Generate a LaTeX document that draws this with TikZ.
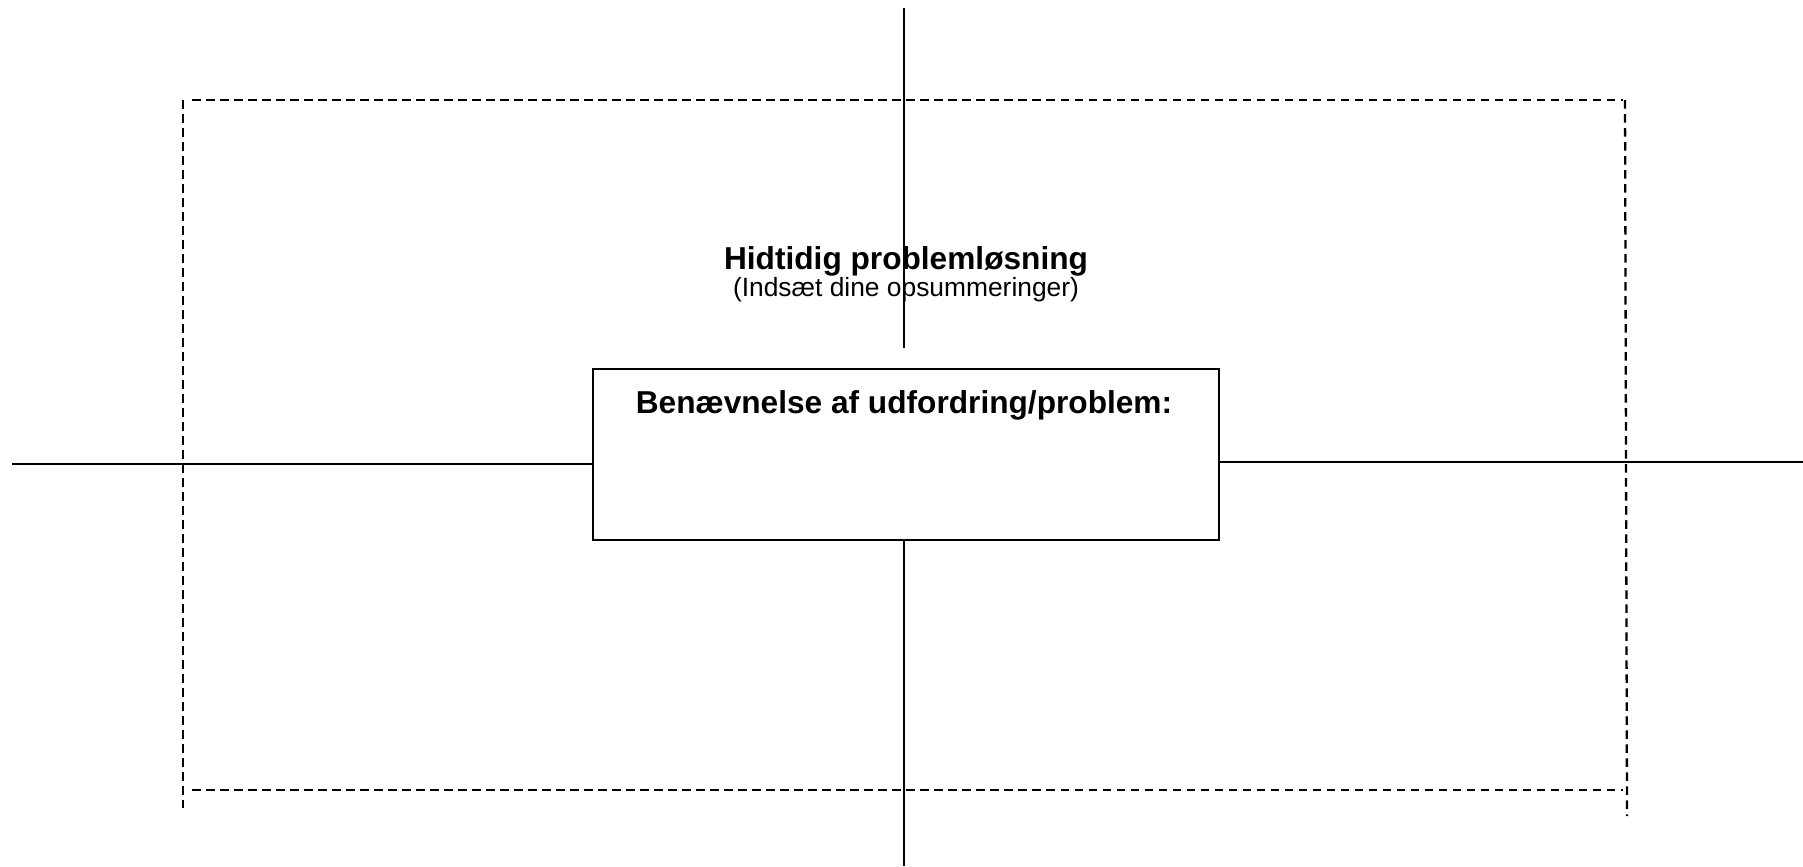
\documentclass[tikz,border=0pt]{standalone}
\usepackage{fontspec}
\setmainfont{Liberation Sans}
\tikzset{
  ramme/.style={line width=0.65pt, dash pattern=on 0.085cm off 0.055cm},
  akse/.style={line width=0.6pt},
  titel/.style={anchor=base, inner sep=0pt, font=\fontsize{9pt}{11pt}\selectfont\bfseries},
  undertitel/.style={anchor=base, inner sep=0pt, font=\fontsize{7.5pt}{9pt}\selectfont}
}
\begin{document}
\begin{tikzpicture}[x=0.01cm, y=-0.01cm]
    \useasboundingbox (0,0) rectangle (1803,866);
    % Stiplet ramme
    \draw[ramme] (192,100) -- (1623,100);
    \draw[ramme] (192,790) -- (1623,790);
    \draw[ramme] (183,100) -- (183,808);
    \draw[ramme] (1625,100) -- (1627,816);
    % Tekst
    \node[titel] (hidtidig) at (906,269) {Hidtidig problemløsning};
    \node[undertitel] (opsum) at (906,296) {(Indsæt dine opsummeringer)};
    % Boks
    \node[draw, akse, minimum width=6.26cm, minimum height=1.71cm, inner sep=0pt] (prob) at (906,454.5) {};
    \node[titel] (probtitel) at (904,413) {Benævnelse af udfordring/problem:};
    % Akser
    \coordinate (top) at (904,8);
    \coordinate (topslut) at (904,348);
    \coordinate (bund) at (904,866);
    \coordinate (venstre) at (12,464);
    \coordinate (hoejre) at (1803,462);
    \draw[akse] (top) -- (topslut);
    \draw[akse] (prob.south -| bund) -- (bund);
    \draw[akse] (venstre) -- (venstre -| prob.west);
    \draw[akse] (prob.east |- hoejre) -- (hoejre);
\end{tikzpicture}
\end{document}
